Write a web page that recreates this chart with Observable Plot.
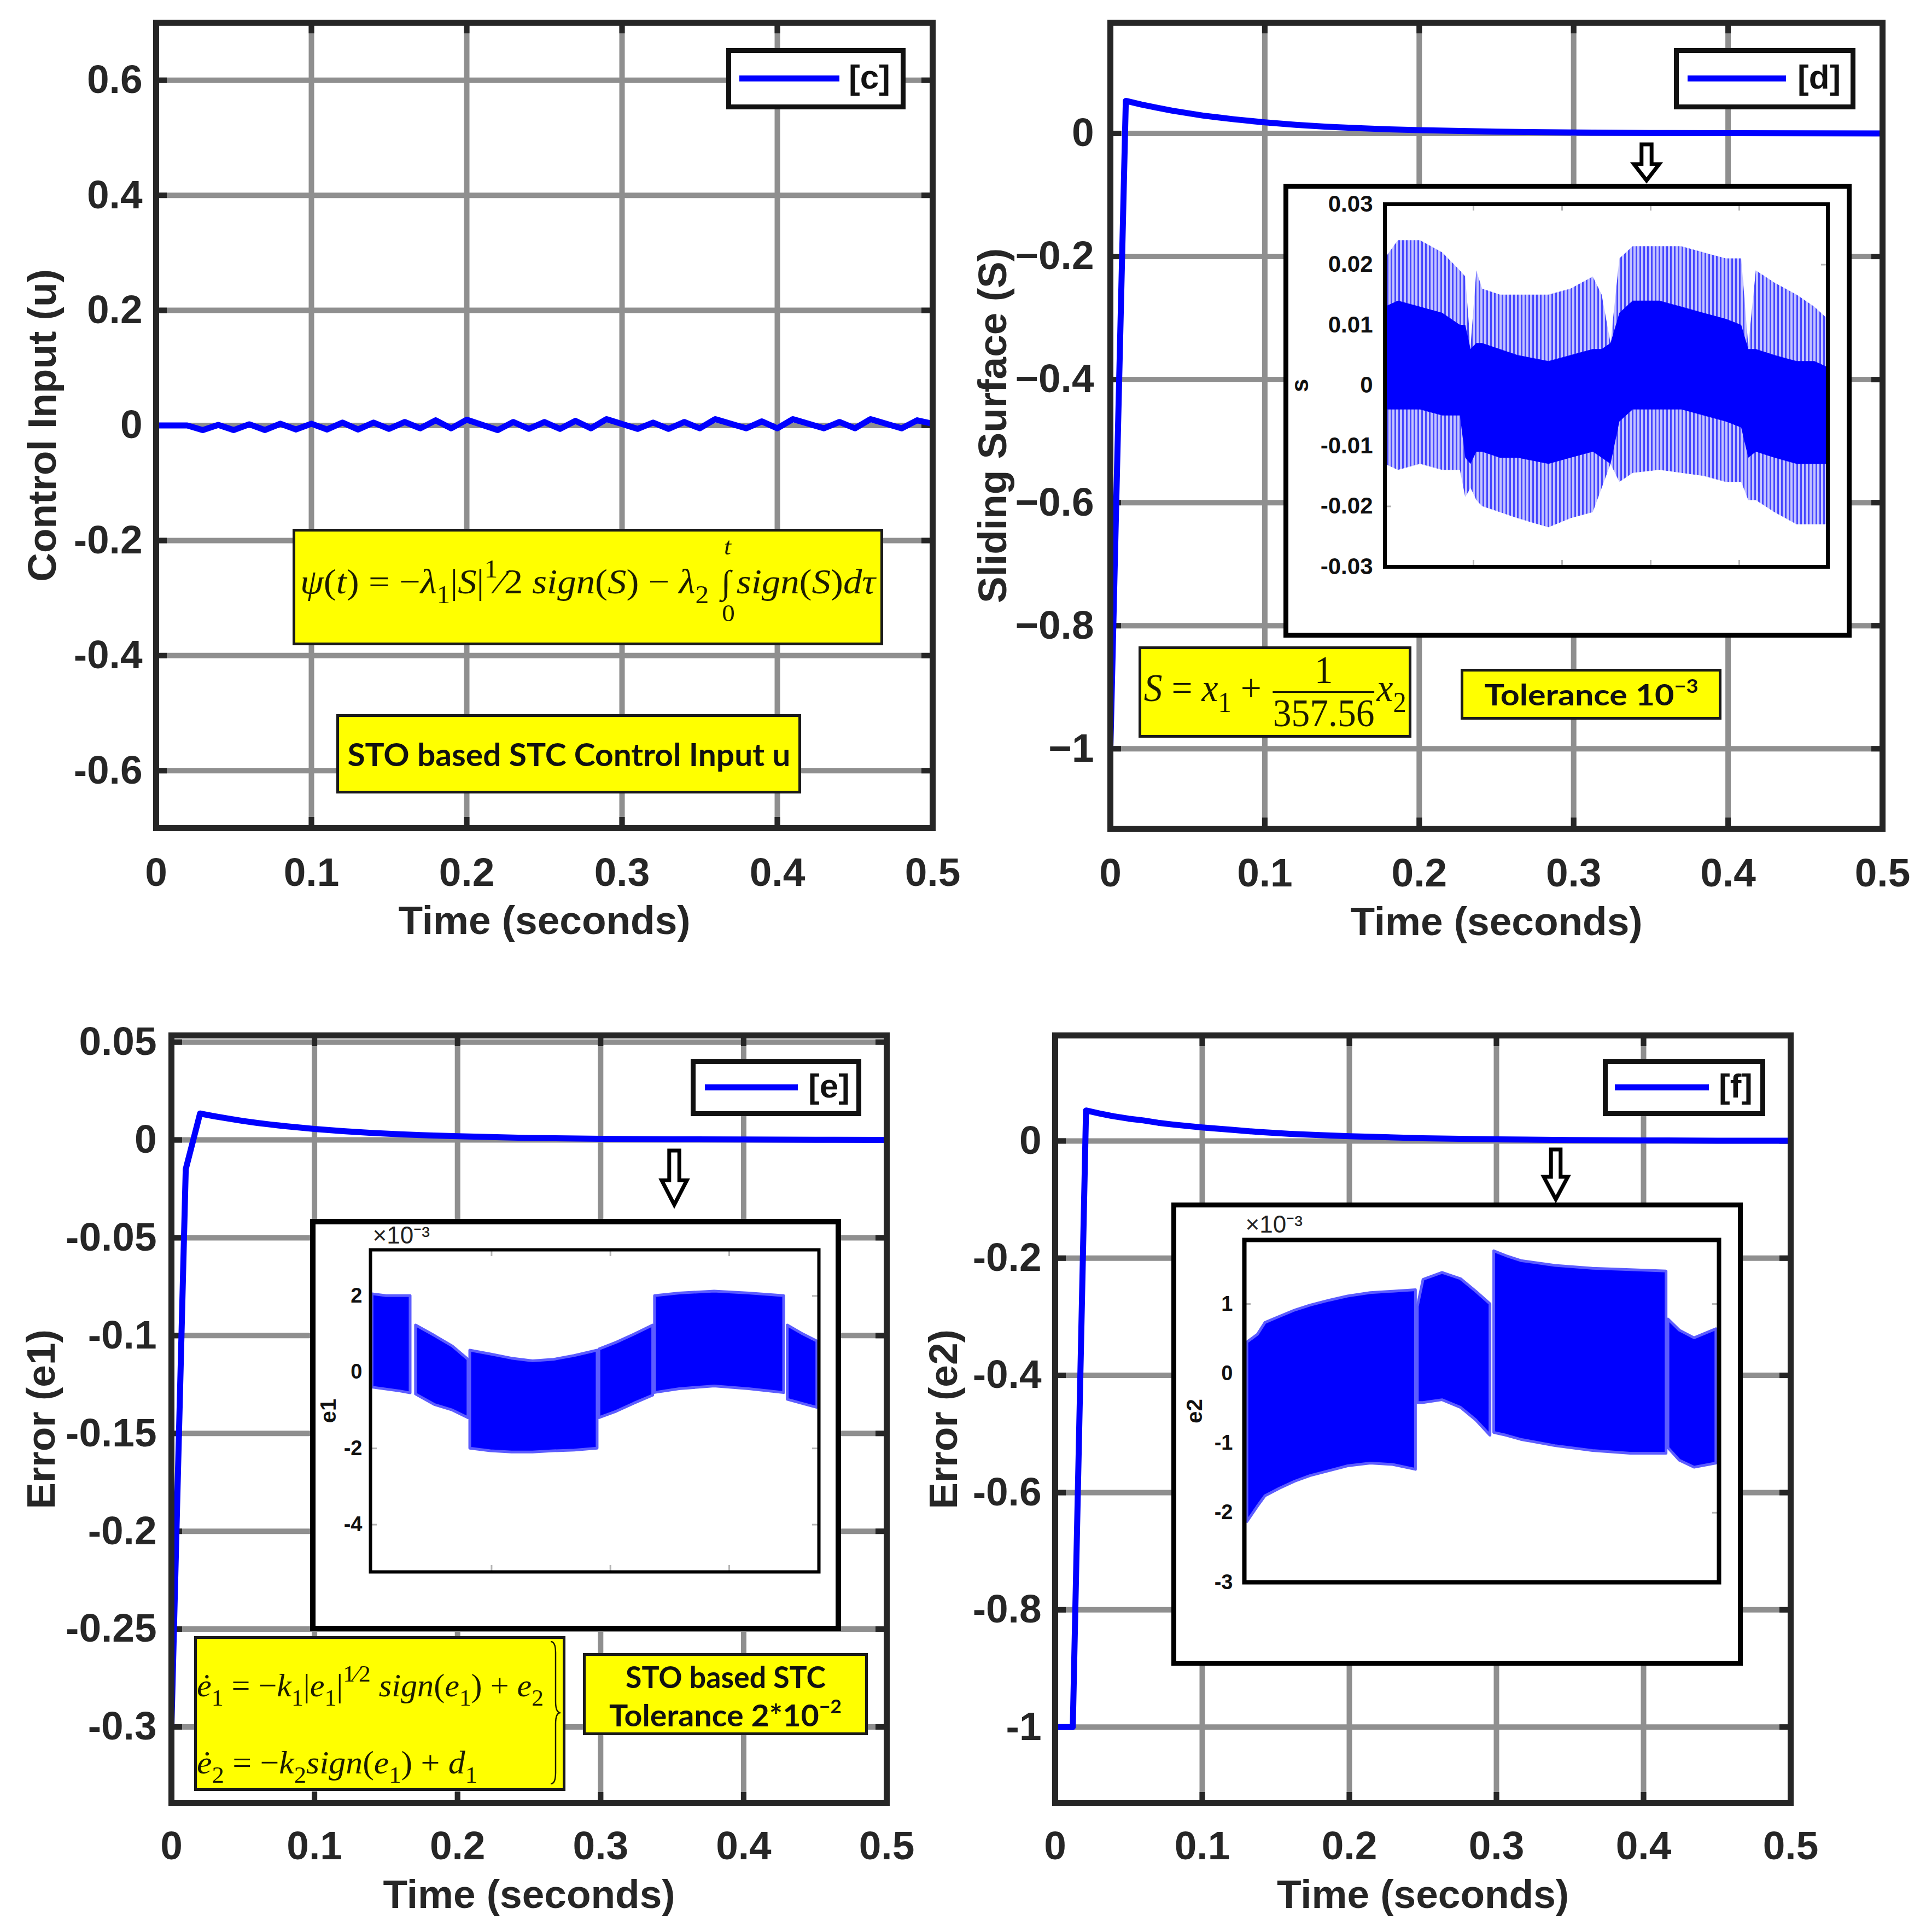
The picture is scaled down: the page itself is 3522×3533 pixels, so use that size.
<!DOCTYPE html>
<html>
<head>
<meta charset="utf-8">
<script src="https://cdn.jsdelivr.net/npm/d3@7"></script>
<script src="https://cdn.jsdelivr.net/npm/@observablehq/plot@0.6"></script>
<style>
html,body{margin:0;padding:0;background:#fff;}
#page{position:relative;width:3522px;height:3533px;overflow:hidden;background:#fff;}
.ybox{position:absolute;background:#ffff00;border:5px solid #1a1a1a;box-sizing:border-box;display:flex;align-items:center;justify-content:center;}
.eq{font-family:'Liberation Serif','Times New Roman',serif;color:#1c1c00;white-space:nowrap;display:inline-block;line-height:1;}
.eq i{font-style:italic;}
.eq sub{font-size:0.72em;vertical-align:-0.4em;line-height:0;}
.eq sup{font-size:0.72em;vertical-align:0.62em;line-height:0;}
.intg{position:relative;display:inline-block;margin:0 0.16em 0 0.34em;font-size:0.95em;}
.intg .ub{position:absolute;left:0.12em;top:-1.3em;font-size:0.72em;}
.intg .lb{position:absolute;left:0.04em;top:1.5em;font-size:0.72em;}
.frac{display:inline-flex;flex-direction:column;align-items:center;vertical-align:middle;margin:0 0.06em;line-height:1.05;}
.frac .num{border-bottom:3px solid #1c1c00;align-self:stretch;text-align:center;}
.lbl{font-family:Lato,'Open Sans','Noto Sans',sans-serif;font-weight:700;color:#111;white-space:nowrap;display:inline-block;line-height:1;}
.lbl sup{font-size:0.62em;vertical-align:0.7em;line-height:0;}
.legbox{position:absolute;background:#fff;border:9px solid #111;box-sizing:border-box;}
.legline{position:absolute;background:#0000ff;}
.legtxt{position:absolute;font-family:'Liberation Sans',Arial,sans-serif;font-weight:bold;font-size:62px;line-height:62px;color:#111;white-space:nowrap;}
.inbox{position:absolute;background:#fff;border:9px solid #000;box-sizing:border-box;}
</style>
</head>
<body>
<div id="page"></div>
<script>
// ---------------- DATA ----------------
const xTicks = [0, 0.1, 0.2, 0.3, 0.4, 0.5];
const xTickLabels = ["0", "0.1", "0.2", "0.3", "0.4", "0.5"];

// Panel [c] control input u
const cTime = [0, 0.02, 0.03, 0.04, 0.05, 0.06, 0.07, 0.08, 0.09, 0.10, 0.11, 0.12, 0.13, 0.14, 0.15, 0.16, 0.17, 0.18, 0.19, 0.20, 0.22, 0.23, 0.24, 0.25, 0.26, 0.27, 0.28, 0.29, 0.31, 0.32, 0.33, 0.34, 0.35, 0.36, 0.38, 0.39, 0.40, 0.41, 0.43, 0.44, 0.45, 0.46, 0.48, 0.49, 0.50];
const cU = [0, 0, -0.008, 0.001, -0.008, 0.002, -0.008, 0.003, -0.007, 0.003, -0.007, 0.005, -0.007, 0.005, -0.006, 0.006, -0.005, 0.009, -0.005, 0.010, -0.008, 0.006, -0.006, 0.006, -0.006, 0.008, -0.005, 0.011, -0.006, 0.005, -0.006, 0.006, -0.005, 0.011, -0.005, 0.007, -0.005, 0.011, -0.005, 0.006, -0.005, 0.011, -0.005, 0.009, 0.003];
const cYTicks = [-0.6, -0.4, -0.2, 0, 0.2, 0.4, 0.6];
const cYLabels = ["-0.6", "-0.4", "-0.2", "0", "0.2", "0.4", "0.6"];

// Panel [d] sliding surface S
const dTime = [0, 0.01, 0.02, 0.03, 0.04, 0.05, 0.06, 0.07, 0.08, 0.10, 0.12, 0.14, 0.16, 0.18, 0.20, 0.25, 0.30, 0.35, 0.40, 0.45, 0.50];
const dS = [-1, 0.053, 0.047, 0.042, 0.037, 0.033, 0.029, 0.026, 0.023, 0.018, 0.014, 0.011, 0.0086, 0.0068, 0.0054, 0.0029, 0.0015, 0.0008, 0.0004, 0.0002, 0.0001];
const dYTicks = [-1, -0.8, -0.6, -0.4, -0.2, 0];
const dYLabels = ["\u22121", "\u22120.8", "\u22120.6", "\u22120.4", "\u22120.2", "0"];

// Panel [e] error e1
const eTime = [0, 0.01, 0.02, 0.03, 0.04, 0.05, 0.06, 0.07, 0.08, 0.10, 0.12, 0.14, 0.16, 0.18, 0.20, 0.25, 0.30, 0.35, 0.40, 0.45, 0.50];
const eE1 = [-0.3, -0.015, 0.0135, 0.0121, 0.0109, 0.0097, 0.0087, 0.0078, 0.0070, 0.0056, 0.0045, 0.0036, 0.0029, 0.0023, 0.0019, 0.0010, 0.0006, 0.0003, 0.0002, 0.0001, 0.0000];
const eYTicks = [-0.3, -0.25, -0.2, -0.15, -0.1, -0.05, 0, 0.05];
const eYLabels = ["-0.3", "-0.25", "-0.2", "-0.15", "-0.1", "-0.05", "0", "0.05"];

// Panel [f] error e2
const fTime = [0, 0.012, 0.021, 0.03, 0.04, 0.05, 0.06, 0.07, 0.08, 0.10, 0.12, 0.14, 0.16, 0.18, 0.20, 0.25, 0.30, 0.35, 0.40, 0.45, 0.50];
const fE2 = [-1, -1, 0.052, 0.047, 0.042, 0.038, 0.035, 0.031, 0.028, 0.023, 0.019, 0.015, 0.012, 0.010, 0.008, 0.0046, 0.0027, 0.0016, 0.0009, 0.0005, 0.0003];
const fYTicks = [-1, -0.8, -0.6, -0.4, -0.2, 0];
const fYLabels = ["-1", "-0.8", "-0.6", "-0.4", "-0.2", "0"];

// Inset of [d]: envelope of the chattering S (zoomed window, normalised time)
const dInX = [0, 0.03, 0.08, 0.13, 0.17, 0.182, 0.194, 0.207, 0.22, 0.26, 0.30, 0.37, 0.42, 0.47, 0.49, 0.51, 0.53, 0.56, 0.62, 0.67, 0.72, 0.77, 0.805, 0.821, 0.838, 0.88, 0.93, 0.97, 1];
const dInOuterTop = [0.021, 0.024, 0.024, 0.022, 0.019, 0.018, 0.0065, 0.019, 0.016, 0.015, 0.015, 0.015, 0.016, 0.018, 0.015, 0.007, 0.021, 0.023, 0.023, 0.023, 0.022, 0.021, 0.021, 0.0065, 0.019, 0.017, 0.015, 0.013, 0.011];
const dInOuterBot = [-0.013, -0.014, -0.013, -0.014, -0.014, -0.0185, -0.017, -0.019, -0.020, -0.021, -0.022, -0.0235, -0.022, -0.021, -0.017, -0.013, -0.016, -0.0145, -0.014, -0.0145, -0.015, -0.016, -0.016, -0.019, -0.019, -0.021, -0.023, -0.023, -0.023];
const dInInnerTop = [0.013, 0.014, 0.013, 0.012, 0.010, 0.010, 0.006, 0.007, 0.007, 0.006, 0.005, 0.004, 0.005, 0.006, 0.006, 0.007, 0.012, 0.014, 0.014, 0.013, 0.012, 0.011, 0.010, 0.006, 0.006, 0.005, 0.004, 0.004, 0.003];
const dInInnerBot = [-0.004, -0.004, -0.004, -0.005, -0.005, -0.012, -0.013, -0.011, -0.011, -0.012, -0.012, -0.013, -0.012, -0.011, -0.012, -0.013, -0.006, -0.004, -0.004, -0.004, -0.005, -0.006, -0.007, -0.012, -0.011, -0.012, -0.013, -0.013, -0.013];
const dInYTicks = [-0.03, -0.02, -0.01, 0, 0.01, 0.02, 0.03];
const dInYLabels = ["-0.03", "-0.02", "-0.01", "0", "0.01", "0.02", "0.03"];
const dInXTicks = [0.2, 0.4, 0.6, 0.8];

// Inset of [e]: e1 band (x10^-3), segments
const eInX = [0.004, 0.035, 0.066, 0.089, 0.101, 0.144, 0.183, 0.218, 0.222, 0.268, 0.315, 0.362, 0.409, 0.455, 0.506, 0.510, 0.549, 0.588, 0.630, 0.634, 0.689, 0.767, 0.844, 0.922, 0.930, 0.961, 0.996];
const eInTop = [2.05, 2.0, 2.0, 2.0, 1.23, 0.95, 0.68, 0.33, 0.57, 0.47, 0.36, 0.29, 0.33, 0.43, 0.57, 0.6, 0.78, 0.99, 1.23, 2.0, 2.07, 2.12, 2.07, 2.0, 1.23, 1.02, 0.81];
const eInBot = [-0.40, -0.45, -0.5, -0.55, -0.58, -0.86, -1.0, -1.2, -2.0, -2.07, -2.1, -2.1, -2.07, -2.05, -2.0, -1.2, -1.03, -0.82, -0.61, -0.54, -0.44, -0.37, -0.44, -0.54, -0.72, -0.82, -0.93];
const eInSeg = [1, 1, 1, 1, 2, 2, 2, 2, 3, 3, 3, 3, 3, 3, 3, 4, 4, 4, 4, 5, 5, 5, 5, 5, 6, 6, 6];
const eInYTicks = [-4, -2, 0, 2];
const eInYLabels = ["-4", "-2", "0", "2"];
const eInXTicks = [0.27, 0.535, 0.8];

// Inset of [f]: e2 band (x10^-3), segments
const fInX = [0.006, 0.028, 0.044, 0.075, 0.107, 0.139, 0.179, 0.218, 0.266, 0.313, 0.361, 0.365, 0.377, 0.417, 0.456, 0.488, 0.518, 0.526, 0.552, 0.583, 0.655, 0.734, 0.813, 0.889, 0.893, 0.917, 0.948, 0.994];
const fInTop = [0.45, 0.56, 0.73, 0.82, 0.91, 0.98, 1.05, 1.11, 1.16, 1.18, 1.20, 0.96, 1.35, 1.45, 1.36, 1.18, 1.0, 1.76, 1.69, 1.62, 1.55, 1.51, 1.49, 1.47, 0.78, 0.62, 0.51, 0.64];
const fInBot = [-2.13, -1.91, -1.76, -1.65, -1.55, -1.47, -1.40, -1.33, -1.29, -1.31, -1.38, -0.42, -0.42, -0.38, -0.49, -0.67, -0.89, -0.85, -0.89, -0.95, -1.04, -1.11, -1.15, -1.15, -1.07, -1.25, -1.35, -1.29];
const fInSeg = [1, 1, 1, 1, 1, 1, 1, 1, 1, 1, 1, 2, 2, 2, 2, 2, 2, 3, 3, 3, 3, 3, 3, 3, 4, 4, 4, 4];
const fInYTicks = [-3, -2, -1, 0, 1];
const fInYLabels = ["-3", "-2", "-1", "0", "1"];

// ---------------- HELPERS ----------------
const page = document.getElementById("page");
const AXF = "'Liberation Sans', Arial, Helvetica, sans-serif";
const GRID = "#8f8f8f", INK = "#262626";

function place(node, left, top) {
  node.style.position = "absolute";
  node.style.left = left + "px";
  node.style.top = top + "px";
  page.appendChild(node);
  return node;
}
function div(cls, left, top, w, h, html) {
  const d = document.createElement("div");
  d.className = cls;
  Object.assign(d.style, {left: left + "px", top: top + "px", width: w + "px", height: h + "px"});
  if (html != null) d.innerHTML = html;
  page.appendChild(d);
  return d;
}
function fit(el, w, origin) {
  const nat = el.getBoundingClientRect().width;
  if (nat > 0) {
    el.style.transformOrigin = origin || "center";
    el.style.transform = `scaleX(${w / nat})`;
  }
}

function mainPanel(o) {
  const fw = o.width - o.ml - o.mr, fh = o.height - o.mt - o.mb;
  const data = o.t.map((t, i) => ({t, v: o.v[i]}));
  const svg = Plot.plot({
    width: o.width, height: o.height,
    marginLeft: o.ml, marginRight: o.mr, marginTop: o.mt, marginBottom: o.mb,
    style: {background: "none", fontFamily: AXF, color: INK, overflow: "visible"},
    x: {domain: [0, 0.5], axis: null},
    y: {domain: o.yDomain, axis: null},
    marks: [
      Plot.gridX(xTicks, {stroke: GRID, strokeOpacity: 1, strokeWidth: 10}),
      Plot.gridY(o.yTicks, {stroke: GRID, strokeOpacity: 1, strokeWidth: 10}),
      Plot.ruleY(o.yTicks, {y: d => d, insetRight: fw - 20, stroke: INK, strokeWidth: 10}),
      Plot.ruleY(o.yTicks, {y: d => d, insetLeft: fw - 20, stroke: INK, strokeWidth: 10}),
      Plot.ruleX(xTicks, {x: d => d, insetTop: fh - 20, stroke: INK, strokeWidth: 10}),
      Plot.ruleX(xTicks, {x: d => d, insetBottom: fh - 20, stroke: INK, strokeWidth: 10}),
      Plot.line(data, {x: "t", y: "v", stroke: "#0000ff", strokeWidth: 11}),
      Plot.frame({stroke: INK, strokeWidth: 11}),
      Plot.axisX(xTicks, {tickSize: 0, tickPadding: o.xPad, fontSize: 73, fontWeight: "bold", fill: INK,
        tickFormat: d => xTickLabels[xTicks.indexOf(d)], label: null}),
      Plot.axisY(o.yTicks, {tickSize: 0, tickPadding: o.yPad, fontSize: 73, fontWeight: "bold", fill: INK,
        tickFormat: d => o.yLabels[o.yTicks.indexOf(d)], label: null}),
      Plot.text([o.ylabel], {frameAnchor: "left", dx: o.ylx, rotate: -90, text: d => d,
        textAnchor: "middle", lineAnchor: "middle", fontSize: 73, fontWeight: "bold", fill: INK}),
      Plot.text(["Time (seconds)"], {frameAnchor: "bottom", dy: o.xtdy, text: d => d,
        textAnchor: "middle", lineAnchor: "middle", fontSize: 73, fontWeight: "bold", fill: INK})
    ]
  });
  return place(svg, o.left, o.top);
}

function insetPanel(o) {
  const fw = o.width - o.ml - o.mr, fh = o.height - o.mt - o.mb;
  const marks = [
    Plot.ruleY(o.yTicks, {y: d => d, insetRight: fw - 12, stroke: "#b4b4b4", strokeWidth: 3}),
    Plot.ruleY(o.yTicks, {y: d => d, insetLeft: fw - 12, stroke: "#b4b4b4", strokeWidth: 3})
  ];
  if (o.xTicks) {
    marks.push(Plot.ruleX(o.xTicks, {x: d => d, insetTop: fh - 12, stroke: "#b4b4b4", strokeWidth: 3}));
    marks.push(Plot.ruleX(o.xTicks, {x: d => d, insetBottom: fh - 12, stroke: "#b4b4b4", strokeWidth: 3}));
  }
  marks.push(...o.layers);
  marks.push(Plot.frame({stroke: "#000", strokeWidth: o.frameW}));
  marks.push(Plot.axisY(o.yTicks, {tickSize: 0, tickPadding: o.yPad, fontSize: o.fs, fontWeight: "bold", fill: "#111",
    tickFormat: d => o.yLabels[o.yTicks.indexOf(d)], label: null}));
  marks.push(Plot.text([o.ylabel], {frameAnchor: "left", dx: o.ylx, rotate: -90, text: d => d,
    textAnchor: "middle", lineAnchor: "middle", fontSize: o.fs + 2, fontWeight: "bold", fill: "#111"}));
  if (o.expo) marks.push(Plot.text([o.expo], {frameAnchor: "top-left", dx: o.expoDx, dy: o.expoDy, textAnchor: "start",
    lineAnchor: "middle", text: d => d, fontSize: 44, fill: "#222"}));
  const svg = Plot.plot({
    width: o.width, height: o.height,
    marginLeft: o.ml, marginRight: o.mr, marginTop: o.mt, marginBottom: o.mb,
    style: {background: "none", fontFamily: AXF, color: "#111", overflow: "visible"},
    x: {domain: [0, 1], axis: null},
    y: {domain: o.yDomain, axis: null},
    marks
  });
  if (o.defs) svg.insertBefore(o.defs, svg.firstChild);
  return place(svg, o.left, o.top);
}

// ---------------- MAIN PANELS ----------------
mainPanel({left: 0, top: 0, width: 1760, height: 1760, ml: 285, mr: 55, mt: 41, mb: 246,
  t: cTime, v: cU, yDomain: [-0.7, 0.7], yTicks: cYTicks, yLabels: cYLabels,
  ylabel: "Control Input (u)", ylx: -207, xtdy: 170, xPad: 54, yPad: 25});
mainPanel({left: 1760, top: 0, width: 1762, height: 1760, ml: 270, mr: 80, mt: 41, mb: 245,
  t: dTime, v: dS, yDomain: [-1.13, 0.18], yTicks: dYTicks, yLabels: dYLabels,
  ylabel: "Sliding Surface (S)", ylx: -214, xtdy: 171, xPad: 54, yPad: 30});
mainPanel({left: 0, top: 1780, width: 1700, height: 1753, ml: 313, mr: 79, mt: 113, mb: 236,
  t: eTime, v: eE1, yDomain: [-0.339, 0.0534], yTicks: eYTicks, yLabels: eYLabels,
  ylabel: "Error (e1)", ylx: -237, xtdy: 168, xPad: 51, yPad: 27});
mainPanel({left: 1660, top: 1780, width: 1862, height: 1753, ml: 269, mr: 248, mt: 113, mb: 236,
  t: fTime, v: fE2, yDomain: [-1.13, 0.18], yTicks: fYTicks, yLabels: fYLabels,
  ylabel: "Error (e2)", ylx: -203, xtdy: 168, xPad: 51, yPad: 25});

// ---------------- LEGENDS ----------------
function legend(l, t, w, h, x1, x2, ly, tx, label) {
  div("legbox", l, t, w, h);
  div("legline", x1, ly - 5.5, x2 - x1, 11);
  const s = div("legtxt", tx, ly - 33, null, 62, label);
  s.style.width = "auto";
}
legend(1328, 88, 328, 112, 1352, 1535, 143, 1552, "[c]");
legend(3061, 88, 332, 112, 3086, 3266, 143, 3287, "[d]");
legend(1263, 1937, 312, 104, 1289, 1459, 1988, 1478, "[e]");
legend(2931, 1937, 297, 104, 2953, 3125, 1988, 3143, "[f]");

// ---------------- INSETS ----------------
// [d] inset
div("inbox", 2347, 336, 1039, 830);
const SVGNS = "http://www.w3.org/2000/svg";
function stripeDefs(id, bg, fg, period, lw) {
  const defs = document.createElementNS(SVGNS, "defs");
  const p = document.createElementNS(SVGNS, "pattern");
  p.setAttribute("id", id); p.setAttribute("patternUnits", "userSpaceOnUse");
  p.setAttribute("width", period); p.setAttribute("height", 20);
  const r1 = document.createElementNS(SVGNS, "rect");
  r1.setAttribute("width", period); r1.setAttribute("height", 20); r1.setAttribute("fill", bg);
  const r2 = document.createElementNS(SVGNS, "rect");
  r2.setAttribute("width", lw); r2.setAttribute("height", 20); r2.setAttribute("fill", fg);
  p.appendChild(r1); p.appendChild(r2); defs.appendChild(p);
  return defs;
}
const dInData = dInX.map((x, i) => ({x, ohi: dInOuterTop[i], olo: dInOuterBot[i], ihi: dInInnerTop[i], ilo: dInInnerBot[i]}));
insetPanel({left: 2347, top: 336, width: 1039, height: 830, ml: 185, mr: 44, mt: 37, mb: 130,
  yDomain: [-0.03, 0.03], yTicks: dInYTicks, yLabels: dInYLabels, xTicks: dInXTicks,
  ylabel: "s", ylx: -155, yPad: 22, fs: 42, frameW: 7,
  defs: stripeDefs("stripesD", "#c4c4ff", "#4646ff", 7, 3),
  layers: [
    Plot.areaY(dInData, {x: "x", y1: "olo", y2: "ohi", fill: "url(#stripesD)"}),
    Plot.areaY(dInData, {x: "x", y1: "ilo", y2: "ihi", fill: "#0000ff"})
  ]});

// [e] inset
div("inbox", 567, 2229, 971, 754).style.borderWidth = "10px";
const eInData = eInX.map((x, i) => ({x, hi: eInTop[i], lo: eInBot[i], seg: eInSeg[i]}));
insetPanel({left: 567, top: 2229, width: 971, height: 754, ml: 110, mr: 41, mt: 56, mb: 109,
  yDomain: [-5.24, 3.21], yTicks: eInYTicks, yLabels: eInYLabels, xTicks: eInXTicks,
  ylabel: "e1", ylx: -76, yPad: 15, fs: 38, frameW: 6,
  expo: "\u00d710\u207b\u00b3", expoDx: 4, expoDy: -26,
  layers: [
    Plot.areaY(eInData, {x: "x", y1: "lo", y2: "hi", z: "seg", fill: "#0000ff", stroke: "#5c5cff", strokeWidth: 5})
  ]});

// [f] inset
div("inbox", 2142, 2199, 1045, 847);
const fInData = fInX.map((x, i) => ({x, hi: fInTop[i], lo: fInBot[i], seg: fInSeg[i]}));
insetPanel({left: 2142, top: 2199, width: 1045, height: 847, ml: 133, mr: 44, mt: 68, mb: 153,
  yDomain: [-3, 1.92], yTicks: fInYTicks, yLabels: fInYLabels,
  ylabel: "e2", ylx: -90, yPad: 21, fs: 38, frameW: 8,
  expo: "\u00d710\u207b\u00b3", expoDx: 2, expoDy: -28,
  layers: [
    Plot.areaY(fInData, {x: "x", y1: "lo", y2: "hi", z: "seg", fill: "#0000ff", stroke: "#5c5cff", strokeWidth: 5})
  ]});

// ---------------- ARROWS (annotations) ----------------
const ov = document.createElementNS(SVGNS, "svg");
ov.setAttribute("width", 3522); ov.setAttribute("height", 3533);
ov.style.position = "absolute"; ov.style.left = "0px"; ov.style.top = "0px"; ov.style.pointerEvents = "none";
function arrow(cx, y0, y1, w) {
  const h = y1 - y0, s = w * 0.2, hy = y0 + h * 0.55;
  const pts = [[cx - s, y0], [cx + s, y0], [cx + s, hy], [cx + w / 2, hy], [cx, y1], [cx - w / 2, hy], [cx - s, hy]];
  const p = document.createElementNS(SVGNS, "polygon");
  p.setAttribute("points", pts.map(q => q.join(",")).join(" "));
  p.setAttribute("fill", "#fff"); p.setAttribute("stroke", "#000"); p.setAttribute("stroke-width", 7);
  p.setAttribute("stroke-linejoin", "miter");
  ov.appendChild(p);
}
arrow(3011, 264, 330, 46);
arrow(1233, 2104, 2203, 46);
arrow(2845, 2102, 2193, 44);
page.appendChild(ov);

// ---------------- YELLOW ANNOTATION BOXES ----------------
// [c] equation
let b = div("ybox", 535, 967, 1080, 213);
b.innerHTML = `<span class="eq" style="font-size:64px;position:relative;top:-10px"><i>ψ</i>(<i>t</i>) = −<i>λ</i><sub>1</sub>|<i>S</i>|<sup>1</sup>⁄2 <i>sign</i>(<i>S</i>) − <i>λ</i><sub>2</sub><span class="intg">∫<span class="ub"><i>t</i></span><span class="lb">0</span></span><i>sign</i>(<i>S</i>)<i>dτ</i></span>`;
fit(b.firstChild, 1052);
// [c] label
b = div("ybox", 615, 1306, 850, 145);
b.innerHTML = `<span class="lbl" style="font-size:58px">STO based STC Control Input u</span>`;
fit(b.firstChild, 810);
// [d] equation
b = div("ybox", 2082, 1182, 499, 167);
b.innerHTML = `<span class="eq" style="font-size:72px"><i>S</i> = <i>x</i><sub>1</sub> + <span class="frac"><span class="num">1</span><span class="den">357.56</span></span><i>x</i><sub>2</sub></span>`;
fit(b.firstChild, 480);
// [d] tolerance
b = div("ybox", 2671, 1223, 477, 93);
b.innerHTML = `<span class="lbl" style="font-size:54px">Tolerance 10<sup>−3</sup></span>`;
fit(b.firstChild, 391);
// [e] equations
b = div("ybox", 355, 2992, 679, 283);
b.style.display = "block";
b.innerHTML = `<span class="eq" style="position:absolute;left:0px;top:55px;font-size:60px;line-height:60px"><i>ė</i><sub>1</sub> = −<i>k</i><sub>1</sub>|<i>e</i><sub>1</sub>|<sup>1⁄2</sup> <i>sign</i>(<i>e</i><sub>1</sub>) + <i>e</i><sub>2</sub></span>` +
  `<span class="eq" style="position:absolute;left:0px;top:196px;font-size:60px;line-height:60px"><i>ė</i><sub>2</sub> = −<i>k</i><sub>2</sub><i>sign</i>(<i>e</i><sub>1</sub>) + <i>d</i><sub>1</sub></span>` +
  `<svg style="position:absolute;left:645px;top:3px" width="22" height="264"><path d="M2,2 Q11,2 11,22 L11,112 Q11,132 20,132 Q11,132 11,152 L11,242 Q11,262 2,262" fill="none" stroke="#1c1c00" stroke-width="2.5"/></svg>`;
fit(b.children[0], 634, "left");
fit(b.children[1], 513, "left");
// [e] label
b = div("ybox", 1066, 3023, 521, 150);
b.style.display = "block";
b.innerHTML = `<span class="lbl" style="position:absolute;left:0;right:0;top:10px;text-align:center;font-size:56px;line-height:56px"><span>STO based STC</span></span>` +
  `<span class="lbl" style="position:absolute;left:0;right:0;top:80px;text-align:center;font-size:56px;line-height:56px"><span>Tolerance 2*10<sup>−2</sup></span></span>`;
{
  const s1 = b.children[0].firstChild, s2 = b.children[1].firstChild;
  s1.style.display = "inline-block"; s2.style.display = "inline-block";
  fit(s1, 366); fit(s2, 425);
}
</script>
</body>
</html>
